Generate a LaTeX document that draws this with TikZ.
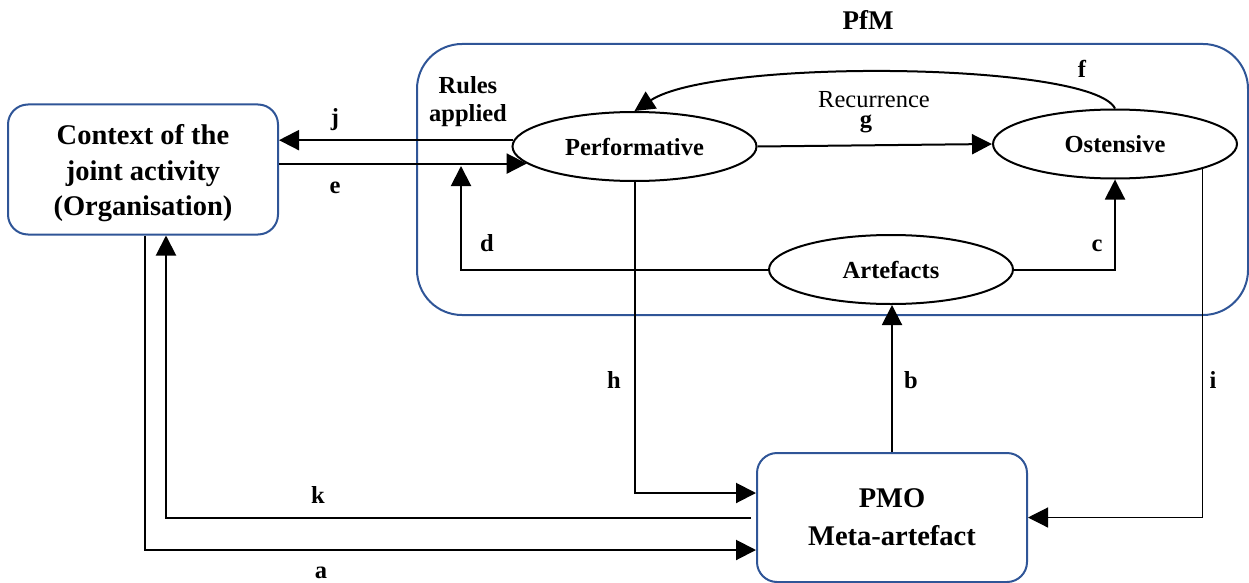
\documentclass[tikz,border=0pt]{standalone}
\usepackage{fontspec}
\setmainfont{Liberation Serif}
\usetikzlibrary{shapes.geometric,arrows.meta,calc}
\definecolor{boxblue}{RGB}{47,85,151}
\begin{document}
\begin{tikzpicture}[x=1pt,y=-1pt,
  conn/.style={line width=2pt, black},
  arr/.style={conn, -{Triangle[length=20pt,width=20pt]}},
  oval/.style={ellipse, draw, line width=2pt, minimum width=244pt, minimum height=69pt, inner sep=0pt, font=\fontsize{24.5}{29}\selectfont\bfseries},
  bigbox/.style={draw=boxblue, line width=2pt, rounded corners=20pt, minimum width=270pt, minimum height=130pt, inner sep=0pt},
  boxtext/.style={align=center, inner sep=0pt, font=\fontsize{28.5}{35.5}\selectfont\bfseries},
  lbl/.style={font=\fontsize{24.5}{29}\selectfont\bfseries, text height=17pt, text depth=5.4pt, inner sep=0pt, align=center},
  reg/.style={font=\fontsize{24.5}{29}\selectfont, text height=17pt, text depth=0pt, inner sep=0pt}]
\useasboundingbox (0,0) rectangle (1249,583);

% container
\node[draw=boxblue, line width=2pt, rounded corners=45pt, minimum width=831pt, minimum height=271pt, inner sep=0pt] (pfm) at (832.5,179.5) {};
\node[font=\fontsize{27}{32}\selectfont\bfseries, inner sep=0pt] (pfmtitle) at (868,20) {PfM};

% nodes
\node[bigbox] (ctx) at (143,169.5) {};
\node[boxtext] (ctxt) at (143,173.5) {Context of the\\joint activity\\(Organisation)};
\node[bigbox, minimum height=129pt] (pmo) at (892,517.5) {};
\node[boxtext, font=\fontsize{28.5}{38}\selectfont\bfseries] (pmot) at (892,517.5) {PMO\\Meta-artefact};
\node[oval] (perf) at (634.5,146.5) {Performative};
\node[oval] (ost) at (1115,144) {Ostensive};
\node[oval] (art) at (891,269.5) {Artefacts};

\coordinate (dtip) at (461,166);

% connectors
\draw[arr] (perf.177.4) -- (ctx.east |- perf.177.4);
\draw[arr] (ctx.east |- perf.189.5) -- (perf.189.5);
\draw[arr] (perf.east) -- (ost.west);
\draw[arr] (ost.north) .. controls (1092,62) and (715,58) .. (perf.north);
\draw[arr] (art.west) -| (dtip);
\draw[arr] (art.east) -| (ost.south);
\draw[arr] (pmo.north) -- (pmo.north |- art.south);
\draw[arr] (perf.south) |- ($(pmo.west)+(0,-24.5)$);
\draw[line width=1.2pt, -{Triangle[length=20pt,width=20pt]}] (ost.344.7) |- (pmo.east);
\draw[arr] ($(pmo.west)+(-5,0)$) -| ($(ctx.south)+(23,0)$);
\draw[arr] ($(ctx.south)+(2,0)$) |- ($(pmo.west)+(0,32.5)$);

% labels
\node[lbl] (lj) at (335,120) {j};
\node[lbl] (le) at (335,188) {e};
\node[lbl, text height=11.3pt] (lg) at (866,125) {g};
\node[reg] (lrec) at (874,99.5) {Recurrence};
\node[lbl] (lf) at (1082,72) {f};
\node[lbl] (ld) at (487,246) {d};
\node[lbl] (lc) at (1097,246) {c};
\node[lbl] (lh) at (614,383) {h};
\node[lbl] (lb) at (911,383) {b};
\node[lbl] (li) at (1213,383) {i};
\node[lbl] (lk) at (318,498) {k};
\node[lbl] (la) at (321,573) {a};
\node[font=\fontsize{24.5}{28}\selectfont\bfseries, align=center, inner sep=0pt] (rules) at (468,102) {Rules\\applied};
\end{tikzpicture}
\end{document}
